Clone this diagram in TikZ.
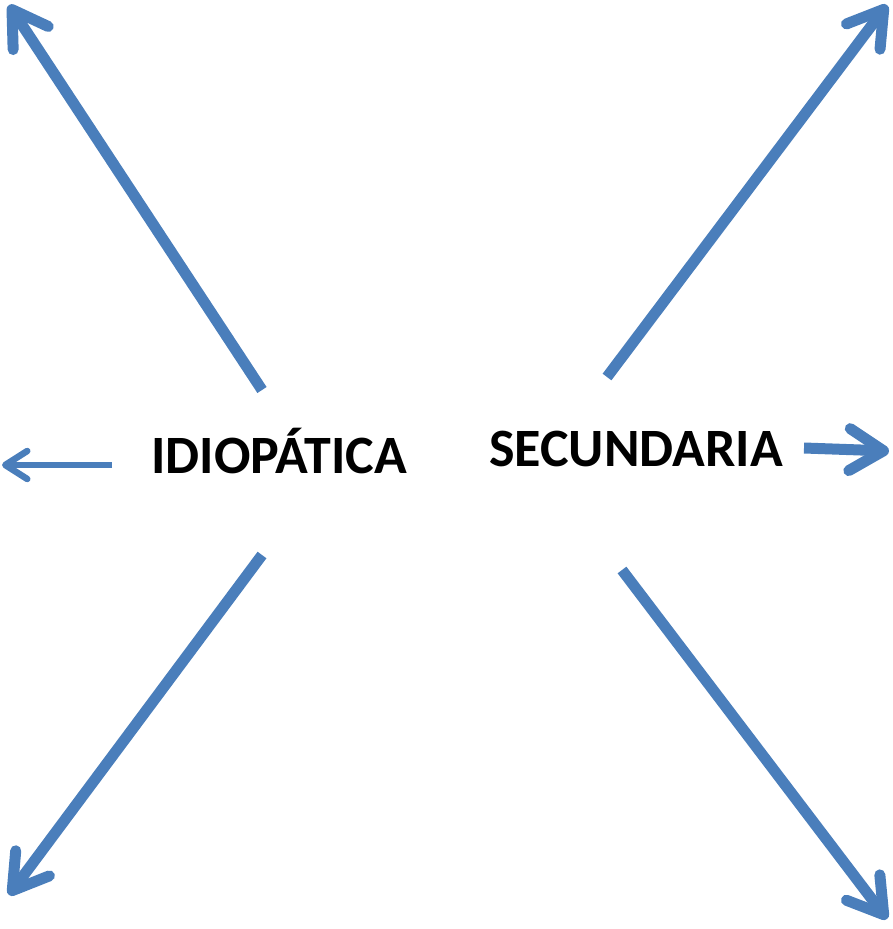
\documentclass[tikz,border=0pt]{standalone}
\usepackage{fontspec}
\setmainfont{Carlito}
\usetikzlibrary{arrows.meta}
\definecolor{pblue}{HTML}{4A7EBB}
\begin{document}
\begin{tikzpicture}[x=1pt,y=-1pt,
  bigarrow/.style={pblue,line width=11pt,line cap=butt,
    -{Straight Barb[length=34pt,width=42pt,round]}},
  smallarrow/.style={pblue,line width=6.5pt,line cap=butt,
    -{Straight Barb[length=22pt,width=28pt,round]}},
  label/.style={font=\bfseries\fontsize{54}{60}\selectfont,inner sep=0pt,anchor=base}]
\useasboundingbox (0,0) rectangle (892,929);
\node[label] (idio) at (279,473) {IDIOPÁTICA};
\node[label] (sec) at (636,466) {SECUNDARIA};
\coordinate (s1) at (262,390); \coordinate (t1) at (9,5);
\coordinate (s2) at (112,465); \coordinate (t2) at (2,465);
\coordinate (s3) at (262,555); \coordinate (t3) at (9,895);
\coordinate (s4) at (607,377); \coordinate (t4) at (887,5);
\coordinate (s5) at (804,448); \coordinate (t5) at (889,451);
\coordinate (s6) at (622,570); \coordinate (t6) at (887,919);
\draw[bigarrow] (s1) -- (t1);
\draw[smallarrow] (s2) -- (t2);
\draw[bigarrow] (s3) -- (t3);
\draw[bigarrow] (s4) -- (t4);
\draw[bigarrow] (s5) -- (t5);
\draw[bigarrow] (s6) -- (t6);
\end{tikzpicture}
\end{document}
